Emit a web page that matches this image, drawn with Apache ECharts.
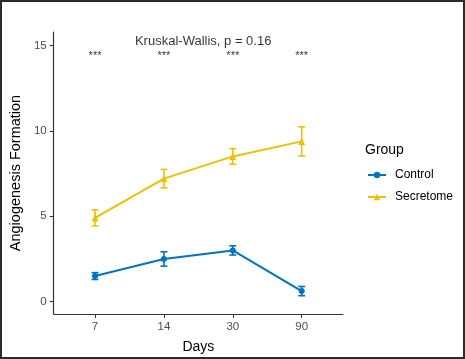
<!DOCTYPE html>
<html><head><meta charset="utf-8">
<script src="https://cdn.jsdelivr.net/npm/echarts@6/dist/echarts.min.js"></script>
<style>html,body{margin:0;padding:0;background:#fff}#c{width:465px;height:359px}</style>
</head><body><div id="c"></div>
<script>
const categories = ['7', '14', '30', '90'];
const controlMean = [1.5, 2.5, 3.0, 0.62];
const controlErr = [0.2, 0.42, 0.27, 0.27];
const secretomeMean = [4.9, 7.2, 8.5, 9.38];
const secretomeErr = [0.47, 0.54, 0.45, 0.85];
const yTicks = [0, 5, 10, 15];
const starLabels = ['***', '***', '***', '***'];
const starY = 14.4;
const testLabel = 'Kruskal-Wallis, p = 0.16';

const FONT = '"Liberation Sans", Arial, sans-serif';
const BLUE = '#0073C2', GOLD = '#EFC000';
const chart = echarts.init(document.getElementById('c'), null, {renderer: 'canvas'});

function errSeries(mean, err, color) {
  return {
    type: 'custom', silent: true, z: 3,
    data: mean.map((m, i) => [i, m - err[i], m + err[i]]),
    renderItem: function (params, api) {
      const x = api.value(0);
      const lo = api.coord([x, api.value(1)]);
      const hi = api.coord([x, api.value(2)]);
      const w = 3.5;
      const st = {stroke: color, lineWidth: 1.6};
      return {type: 'group', children: [
        {type: 'line', shape: {x1: lo[0], y1: lo[1], x2: hi[0], y2: hi[1]}, style: st},
        {type: 'line', shape: {x1: lo[0] - w, y1: lo[1], x2: lo[0] + w, y2: lo[1]}, style: st},
        {type: 'line', shape: {x1: hi[0] - w, y1: hi[1], x2: hi[0] + w, y2: hi[1]}, style: st}
      ]};
    }
  };
}

chart.setOption({
  animation: false,
  grid: {left: 45, top: 32, right: 122, bottom: 44, containLabel: false},
  xAxis: {
    type: 'value', min: -0.6, max: 3.6,
    name: 'Days', nameLocation: 'middle', nameGap: 26,
    nameTextStyle: {fontFamily: FONT, fontSize: 14, color: '#000'},
    splitLine: {show: false},
    axisLine: {onZero: false, lineStyle: {color: '#333', width: 1.2}},
    axisTick: {customValues: [0, 1, 2, 3], length: 4, lineStyle: {color: '#333'}},
    axisLabel: {customValues: [0, 1, 2, 3], formatter: v => categories[Math.round(v)],
      fontFamily: FONT, fontSize: 11.5, color: '#4D4D4D', margin: 7}
  },
  yAxis: {
    type: 'value', min: -0.72, max: 15.78,
    name: 'Angiogenesis Formation', nameLocation: 'middle', nameGap: 24,
    nameTextStyle: {fontFamily: FONT, fontSize: 14.5, color: '#000'},
    splitLine: {show: false},
    axisLine: {show: true, onZero: false, lineStyle: {color: '#333', width: 1.2}},
    axisTick: {show: true, customValues: yTicks, length: 4, lineStyle: {color: '#333'}},
    axisLabel: {customValues: yTicks, fontFamily: FONT, fontSize: 11.5, color: '#4D4D4D', margin: 7}
  },
  legend: {
    orient: 'vertical', left: 362, top: 164, itemGap: 10,
    itemWidth: 18, itemHeight: 8,
    textStyle: {fontFamily: FONT, fontSize: 12, color: '#000', padding: [0, 0, 0, 4]},
    data: ['Control', 'Secretome']
  },
  graphic: [
    {type: 'text', left: 365, top: 143, style: {text: 'Group', fontFamily: FONT, fontSize: 14, fill: '#000'}},
    {type: 'rect', shape: {x: 1, y: 1, width: 463, height: 357}, style: {fill: 'none', stroke: '#2b2b2b', lineWidth: 2}, silent: true}
  ],
  series: [
    {name: 'Control', type: 'line', data: controlMean.map((v, i) => [i, v]),
     symbol: 'circle', symbolSize: 6, lineStyle: {color: BLUE, width: 2}, itemStyle: {color: BLUE}, z: 4},
    {name: 'Secretome', type: 'line', data: secretomeMean.map((v, i) => [i, v]),
     symbol: 'triangle', symbolSize: 7, lineStyle: {color: GOLD, width: 2}, itemStyle: {color: GOLD}, z: 4},
    errSeries(controlMean, controlErr, BLUE),
    errSeries(secretomeMean, secretomeErr, GOLD),
    {type: 'scatter', silent: true, symbolSize: 0, data: starLabels.map((s, i) => [i, starY, s]),
     label: {show: true, position: 'inside', formatter: p => p.data[2], fontFamily: FONT, fontSize: 11, color: '#000'}},
    {type: 'scatter', silent: true, symbolSize: 0, data: [[1.57, 15.2, testLabel]],
     label: {show: true, position: 'inside', formatter: p => p.data[2], fontFamily: FONT, fontSize: 13, color: '#000'}}
  ]
});
</script></body></html>
